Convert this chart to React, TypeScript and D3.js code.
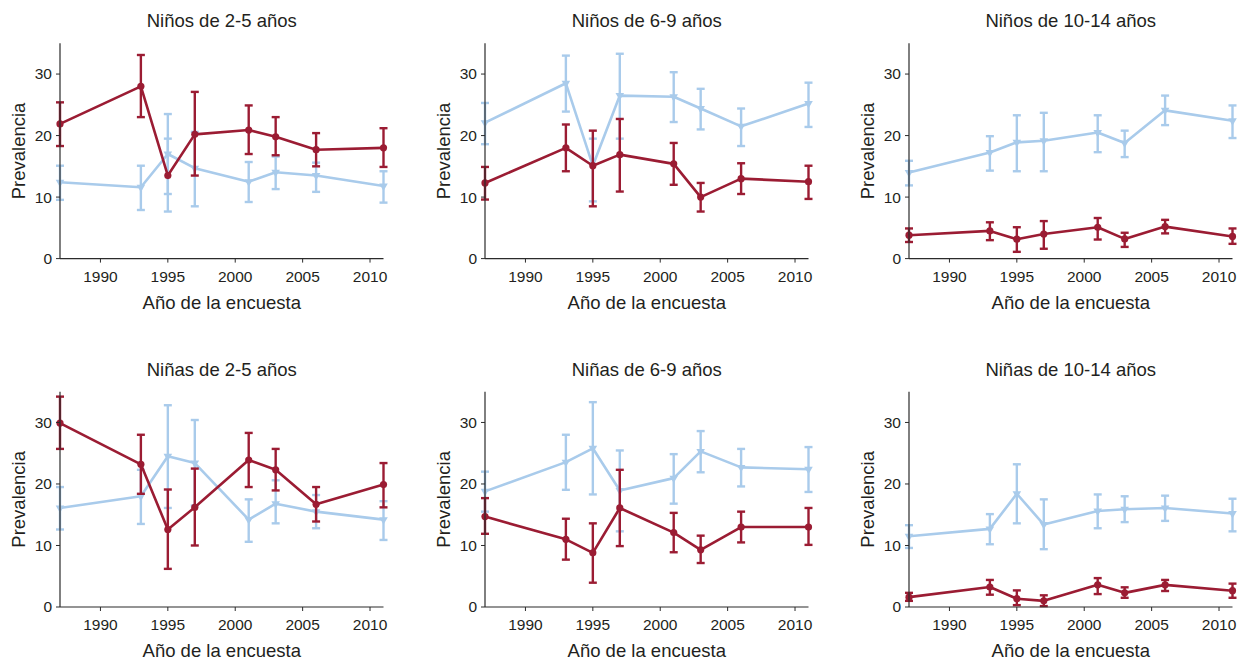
import React from 'react';
import * as d3 from 'd3';

// ---- Data ----
const years = [1987, 1993, 1995, 1997, 2001, 2003, 2006, 2011];
const yTicks = [0, 10, 20, 30];
const xTicks = [1990, 1995, 2000, 2005, 2010];
const yMax = 35;
const xDomain = [1987, 2011];

type Pt = [number, number | null, number | null]; // value, low, high

// Niños de 2-5 años
const n25Red: Pt[] = [[21.9, 18.3, 25.4], [28.0, 23.0, 33.1], [13.5, null, null], [20.2, 13.5, 27.1], [20.9, 17.0, 24.9], [19.8, 16.8, 23.0], [17.7, 15.0, 20.4], [18.0, 14.9, 21.2]];
const n25Blue: Pt[] = [[12.4, 9.55, 15.1], [11.6, 7.9, 15.1], [17.0, 7.65, 23.5], [14.7, 8.5, 20.6], [12.5, 9.2, 15.7], [14.05, 11.3, 16.6], [13.5, 10.85, 15.6], [11.8, 9.1, 14.2]];
const n25BlueExtra: [number, number, number][] = [[1995, 10.5, 19.5]];

// Niños de 6-9 años
const n69Red: Pt[] = [[12.3, 9.6, 14.9], [18.0, 14.2, 21.8], [15.1, 8.5, 20.8], [16.9, 10.9, 22.7], [15.4, 12.0, 18.8], [10.0, 7.65, 12.3], [13.0, 10.5, 15.5], [12.5, 9.7, 15.1]];
const n69Blue: Pt[] = [[22.1, 18.6, 25.3], [28.5, 23.9, 33.0], [15.1, 9.3, 19.5], [26.5, 19.5, 33.3], [26.3, 22.2, 30.3], [24.4, 21.0, 27.6], [21.5, 18.3, 24.4], [25.2, 21.4, 28.6]];

// Niños de 10-14 años
const n1014Red: Pt[] = [[3.8, 2.7, 4.9], [4.5, 3.0, 5.9], [3.15, 1.1, 5.1], [4.0, 1.6, 6.1], [5.1, 3.1, 6.6], [3.2, 1.9, 4.2], [5.2, 4.1, 6.3], [3.6, 2.4, 4.9]];
const n1014Blue: Pt[] = [[14.0, 11.9, 15.9], [17.25, 14.3, 19.9], [18.9, 14.2, 23.3], [19.15, 14.2, 23.7], [20.5, 17.3, 23.3], [18.8, 16.5, 20.8], [24.1, 21.7, 26.5], [22.4, 19.6, 24.9]];

// Niñas de 2-5 años
const a25Red: Pt[] = [[29.9, 25.7, 34.2], [23.2, 18.4, 28.0], [12.6, 6.2, 19.1], [16.2, 10.0, 22.5], [23.9, 19.5, 28.3], [22.3, 18.95, 25.7], [16.7, 13.9, 19.5], [19.9, 16.2, 23.4]];
const a25Blue: Pt[] = [[16.1, 12.6, 19.5], [18.0, 13.5, 22.3], [24.5, 16.1, 32.8], [23.4, 16.5, 30.4], [14.2, 10.6, 17.5], [16.8, 13.6, 20.6], [15.5, 12.8, 18.2], [14.2, 10.9, 17.2]];

// Niñas de 6-9 años
const a69Red: Pt[] = [[14.7, 11.9, 17.7], [11.0, 7.7, 14.35], [8.8, 3.95, 13.6], [16.1, 9.9, 22.3], [12.1, 8.9, 15.3], [9.3, 7.15, 11.6], [13.0, 10.5, 15.5], [13.0, 10.1, 16.1]];
const a69Blue: Pt[] = [[18.8, 15.5, 22.0], [23.55, 19.05, 28.0], [25.8, 18.3, 33.3], [18.95, 12.3, 25.45], [20.95, 16.8, 24.85], [25.3, 21.9, 28.6], [22.7, 19.6, 25.7], [22.4, 18.7, 26.0]];

// Niñas de 10-14 años
const a1014Red: Pt[] = [[1.6, 1.0, 2.3], [3.25, 2.0, 4.4], [1.35, 0.3, 2.7], [1.0, 0.15, 1.9], [3.6, 2.1, 4.7], [2.3, 1.5, 3.2], [3.6, 2.6, 4.4], [2.65, 1.5, 3.8]];
const a1014Blue: Pt[] = [[11.5, 9.6, 13.3], [12.7, 10.2, 15.1], [18.4, 13.6, 23.2], [13.4, 9.4, 17.5], [15.6, 12.8, 18.3], [15.9, 13.8, 18.0], [16.1, 14.0, 18.1], [15.2, 12.3, 17.6]];

const titles = [
  'Niños de 2-5 años', 'Niños de 6-9 años', 'Niños de 10-14 años',
  'Niñas de 2-5 años', 'Niñas de 6-9 años', 'Niñas de 10-14 años',
];
const xLabel = 'Año de la encuesta';
const yLabel = 'Prevalencia';

const panels = [
  { title: titles[0], red: n25Red, blue: n25Blue, extra: n25BlueExtra },
  { title: titles[1], red: n69Red, blue: n69Blue, extra: [] as [number, number, number][] },
  { title: titles[2], red: n1014Red, blue: n1014Blue, extra: [] as [number, number, number][] },
  { title: titles[3], red: a25Red, blue: a25Blue, extra: [] as [number, number, number][] },
  { title: titles[4], red: a69Red, blue: a69Blue, extra: [] as [number, number, number][] },
  { title: titles[5], red: a1014Red, blue: a1014Blue, extra: [] as [number, number, number][] },
];

// ---- Layout ----
const W = 1242, H = 660;
const colX = [60, 485, 909];
const rowY = [43.3, 391.7];
const plotW = 323.5;
const plotH = 215.3;
const RED = '#9b1c33';
const BLUE = '#a9cbeb';
const AXIS = '#2b2b2b';
const TEXT = '#231f20';
const FONT = '"Liberation Sans", Arial, Helvetica, sans-serif';

function Panel({ p, ox, oy }: { p: typeof panels[0]; ox: number; oy: number }) {
  const x = d3.scaleLinear().domain(xDomain).range([0, plotW]);
  const y = d3.scaleLinear().domain([0, yMax]).range([plotH, 0]);
  const line = d3.line<Pt>().x((_, i) => x(years[i])).y((d) => y(d[0]));
  const tri = d3.symbol().type(d3.symbolTriangle).size(32)();
  const cap = 4;

  const bars = (data: Pt[], color: string) =>
    data.map((d, i) =>
      d[1] == null || d[2] == null ? null : (
        <g key={i} stroke={color} strokeWidth={2.4} fill="none">
          <line x1={x(years[i])} x2={x(years[i])} y1={y(d[1])} y2={y(d[2])} />
          <line x1={x(years[i]) - cap} x2={x(years[i]) + cap} y1={y(d[1])} y2={y(d[1])} />
          <line x1={x(years[i]) - cap} x2={x(years[i]) + cap} y1={y(d[2])} y2={y(d[2])} />
        </g>
      )
    );

  return (
    <g transform={`translate(${ox},${oy})`}>
      <text x={plotW / 2} y={-16} textAnchor="middle" fontSize={18.5} fill={TEXT}>{p.title}</text>
      {/* blue series */}
      {bars(p.blue, BLUE)}
      {p.extra.map((e, i) => (
        <g key={'e' + i} stroke={BLUE} strokeWidth={2.4}>
          <line x1={x(e[0])} x2={x(e[0])} y1={y(e[1])} y2={y(e[2])} />
          <line x1={x(e[0]) - cap} x2={x(e[0]) + cap} y1={y(e[1])} y2={y(e[1])} />
          <line x1={x(e[0]) - cap} x2={x(e[0]) + cap} y1={y(e[2])} y2={y(e[2])} />
        </g>
      ))}
      <path d={line(p.blue) || ''} fill="none" stroke={BLUE} strokeWidth={2.6} strokeLinejoin="round" />
      {p.blue.map((d, i) => (
        <path key={'bm' + i} d={tri || ''} transform={`translate(${x(years[i])},${y(d[0])}) rotate(180)`} fill={BLUE} />
      ))}
      {/* red series */}
      {bars(p.red, RED)}
      <path d={line(p.red) || ''} fill="none" stroke={RED} strokeWidth={2.6} strokeLinejoin="round" />
      {p.red.map((d, i) => (
        <circle key={'rm' + i} cx={x(years[i])} cy={y(d[0])} r={3.6} fill={RED} />
      ))}
      {/* axes */}
      <line x1={0} x2={0} y1={y(0)} y2={y(yMax)} stroke={AXIS} strokeWidth={1.2} />
      <line x1={x(xDomain[0])} x2={x(xDomain[1])} y1={plotH} y2={plotH} stroke={AXIS} strokeWidth={1.2} />
      {yTicks.map((t) => (
        <g key={'yt' + t}>
          <line x1={-4} x2={0} y1={y(t)} y2={y(t)} stroke={AXIS} strokeWidth={1} />
          <text x={-8} y={y(t)} dy="0.35em" textAnchor="end" fontSize={15.5} fill={TEXT}>{t}</text>
        </g>
      ))}
      {xTicks.map((t) => (
        <g key={'xt' + t}>
          <line x1={x(t)} x2={x(t)} y1={plotH} y2={plotH + 4} stroke={AXIS} strokeWidth={1} />
          <text x={x(t)} y={plotH + 23} textAnchor="middle" fontSize={15.5} fill={TEXT}>{t}</text>
        </g>
      ))}
      <text x={plotW / 2} y={plotH + 50} textAnchor="middle" fontSize={18.5} fill={TEXT}>{xLabel}</text>
      <text transform={`translate(-35,${plotH / 2}) rotate(-90)`} textAnchor="middle" fontSize={18.5} fill={TEXT}>{yLabel}</text>
    </g>
  );
}

export default function App() {
  return (
    <svg width={W} height={H} style={{ position: 'fixed', left: 0, top: 0, background: '#fff' }} fontFamily={FONT}>
      <rect width={W} height={H} fill="#fff" />
      {panels.map((p, i) => (
        <Panel key={i} p={p} ox={colX[i % 3]} oy={rowY[Math.floor(i / 3)]} />
      ))}
    </svg>
  );
}
